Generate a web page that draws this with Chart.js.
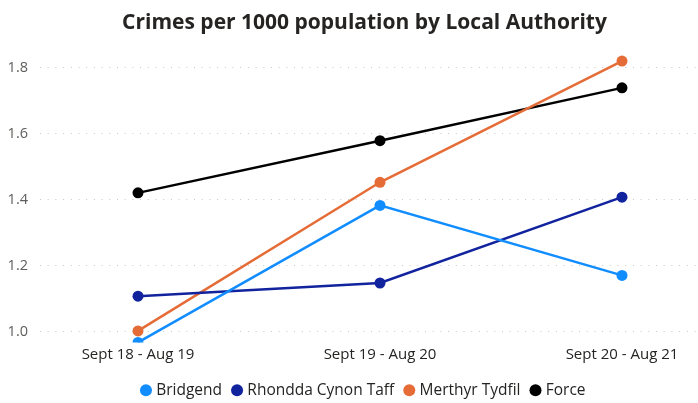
<!DOCTYPE html>
<html>
<head>
<meta charset="utf-8">
<script src="https://cdn.jsdelivr.net/npm/chart.js@4.4.0/dist/chart.umd.min.js"></script>
<style>
  html, body { margin: 0; padding: 0; background: #fff; overflow: hidden; }
  #wrap { width: 720px; height: 408px; }
</style>
</head>
<body>
<div id="wrap"><canvas id="chart" width="720" height="408"></canvas></div>
<script>
// dados
const periodos = ['Sept 18 - Aug 19', 'Sept 19 - Aug 20', 'Sept 20 - Aug 21'];
const bridgend = [0.967, 1.382, 1.17];
const rhondda = [1.107, 1.147, 1.407];
const merthyr = [1.002, 1.452, 1.819];
const force = [1.42, 1.578, 1.738];
const yTicks = [1.0, 1.2, 1.4, 1.6, 1.8];

const fonte = "'Open Sans', 'Noto Sans', sans-serif";

function serie(label, valores, cor) {
    return {
        label: label,
        data: valores.map((v, i) => ({ x: i, y: v })),
        borderColor: cor,
        backgroundColor: cor,
        borderWidth: 2.5,
        pointRadius: 5.5,
        pointHoverRadius: 5.5,
        pointBorderWidth: 0,
        clip: { left: 20, right: 20, top: 20, bottom: 0 }
    };
}

new Chart(document.getElementById('chart').getContext('2d'), {
    type: 'line',
    data: {
        datasets: [
            serie('Bridgend', bridgend, '#118DFF'),
            serie('Rhondda Cynon Taff', rhondda, '#12239E'),
            serie('Merthyr Tydfil', merthyr, '#E66C37'),
            serie('Force', force, '#000000')
        ]
    },
    options: {
        responsive: false,
        animation: false,
        layout: { autoPadding: false, padding: { left: 9, right: 0, top: 0, bottom: 0 } },
        plugins: {
            title: {
                display: true,
                text: 'Crimes per 1000 population by Local Authority',
                color: '#252423',
                font: { family: fonte, size: 21, weight: 'bold' },
                padding: { top: 10.5, bottom: 18.8 }
            },
            legend: {
                position: 'bottom',
                labels: {
                    usePointStyle: true,
                    pointStyle: 'circle',
                    boxWidth: 5,
                    boxHeight: 8.5,
                    padding: 12.5,
                    color: '#252423',
                    font: { family: fonte, size: 15.5 }
                }
            },
            tooltip: { enabled: false }
        },
        scales: {
            x: {
                type: 'linear',
                min: -0.405,
                max: 2.405,
                border: { display: false },
                grid: { display: false, drawTicks: false },
                afterBuildTicks: axis => { axis.ticks = periodos.map((p, i) => ({ value: i })); },
                afterFit: axis => { axis.height = 27.4; },
                ticks: {
                    padding: 3,
                    color: '#252423',
                    font: { family: fonte, size: 15 },
                    callback: v => periodos[v]
                }
            },
            y: {
                min: 0.9665,
                max: 1.839,
                border: { display: false, dash: [1, 6.7] },
                grid: {
                    drawTicks: false,
                    color: '#C8C6C4',
                    lineWidth: 1
                },
                afterBuildTicks: axis => { axis.ticks = yTicks.map(v => ({ value: v })); },
                afterFit: axis => { axis.width = 31; },
                ticks: {
                    padding: 12,
                    color: '#605E5C',
                    font: { family: fonte, size: 14.5 },
                    callback: v => v.toFixed(1)
                }
            }
        }
    }
});
</script>
</body>
</html>
